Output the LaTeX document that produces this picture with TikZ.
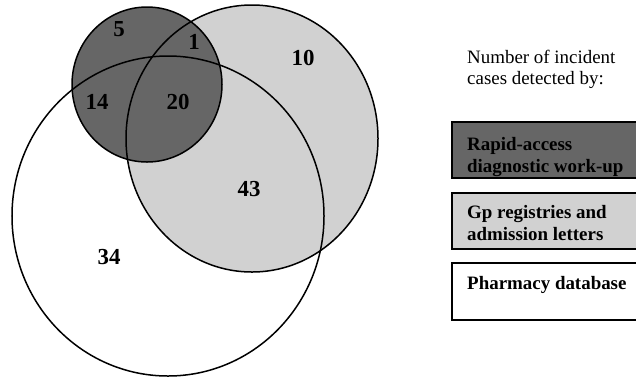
\documentclass[tikz,border=0pt]{standalone}
\usepackage{fontspec}
\setmainfont{Liberation Serif}
\definecolor{darkfill}{gray}{0.40}
\definecolor{lightfill}{gray}{0.82}
\begin{document}
\begin{tikzpicture}[x=1bp,y=-1bp,
  venn/.style={draw=black,line width=1.5bp},
  num/.style={font=\fontsize{23}{26}\selectfont\bfseries,inner sep=0pt},
  head/.style={font=\fontsize{19}{22}\selectfont,inner sep=0pt,anchor=base west},
  lab/.style={font=\fontsize{19}{22}\selectfont\bfseries,inner sep=0pt,anchor=base west},
  legbox/.style={draw=black,line width=1.3bp}]
\useasboundingbox (0,0) rectangle (636,377);
\clip (0,0) rectangle (636,377);
% fills
\fill[lightfill] (252,138.5) ellipse [x radius=126bp, y radius=133.5bp];
\fill[darkfill] (147,84.5) ellipse [x radius=75bp, y radius=77.5bp];
% outlines
\draw[venn] (168,216) ellipse [x radius=156bp, y radius=160bp];
\draw[venn] (252,138.5) ellipse [x radius=126bp, y radius=133.5bp];
\draw[venn] (147,84.5) ellipse [x radius=75bp, y radius=77.5bp];
% numbers
\node[num] (n5)  at (119,29)  {5};
\node[num] (n1)  at (194,42)  {1};
\node[num] (n10) at (303,58)  {10};
\node[num] (n14) at (97,102)  {14};
\node[num] (n20) at (178,102) {20};
\node[num] (n43) at (249,189) {43};
\node[num] (n34) at (109,257) {34};
% legend
\node[head] (h1) at (467,63) {Number of incident};
\node[head] (h2) at (467,84) {cases detected by:};
\draw[legbox,fill=darkfill] (452,122) rectangle (640,178);
\draw[legbox,fill=lightfill] (452,193) rectangle (640,249);
\draw[legbox,fill=white] (452,263) rectangle (640,320);
\node[lab] (r1) at (467,150) {Rapid-access};
\node[lab] (r2) at (467,172) {diagnostic work-up};
\node[lab] (g1) at (467,218) {Gp registries and};
\node[lab] (g2) at (467,240) {admission letters};
\node[lab] (p1) at (467,289) {Pharmacy database};
\end{tikzpicture}
\end{document}
